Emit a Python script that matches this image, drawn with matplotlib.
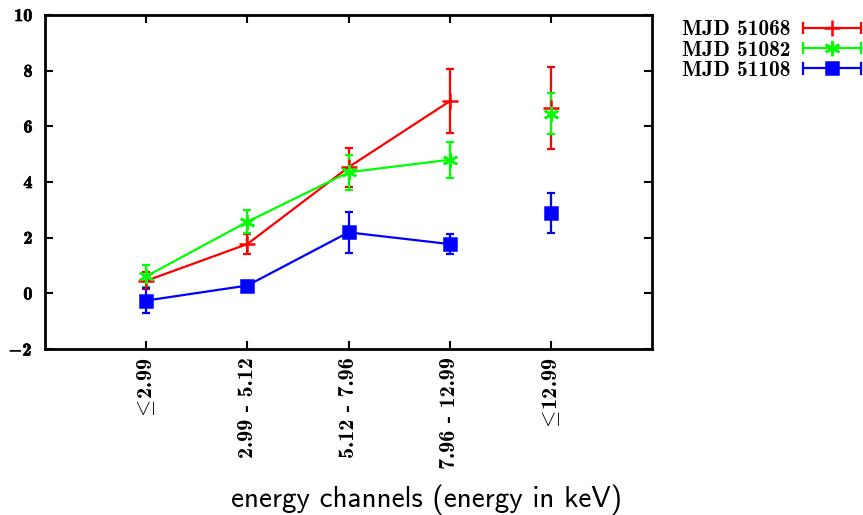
import matplotlib
matplotlib.use("Agg")
import matplotlib.pyplot as plt
from matplotlib.lines import Line2D
from matplotlib.legend_handler import HandlerBase
import matplotlib.patheffects as pe
import numpy as np

plt.rcParams['mathtext.fontset'] = 'cm'
plt.rcParams['axes.unicode_minus'] = False

channels = [r'$\leq\!$2.99', '2.99 - 5.12', '5.12 - 7.96', '7.96 - 12.99', r'$\leq\!$12.99']
xpos = [1, 2, 3, 4, 5]

red_y = [0.45, 1.77, 4.53, 6.90, 6.65]
red_e = [0.30, 0.35, 0.70, 1.15, 1.48]
green_y = [0.61, 2.57, 4.35, 4.80, 6.45]
green_e = [0.40, 0.42, 0.63, 0.65, 0.73]
blue_y = [-0.26, 0.28, 2.19, 1.77, 2.89]
blue_e = [0.45, 0.15, 0.75, 0.37, 0.72]

labels = ['MJD 51068', 'MJD 51082', 'MJD 51108']
colors = ['#ff0000', '#00ff00', '#0000ff']
markers = ['+', (6, 2, 0), 's']
msizes = [12, 11, 9]

yticks = [-2, 0, 2, 4, 6, 8, 10]


class HandlerCapLine(HandlerBase):
    def create_artists(self, legend, orig_handle, xdescent, ydescent,
                       width, height, fontsize, trans):
        c = orig_handle.get_color()
        y = height / 2 - ydescent
        x0, x1 = -xdescent, width - xdescent
        cap = height * 0.3
        arts = [Line2D([x0, x1], [y, y], color=c, lw=1.6),
                Line2D([x0, x0], [y - cap, y + cap], color=c, lw=1.6),
                Line2D([x1, x1], [y - cap, y + cap], color=c, lw=1.6),
                Line2D([(x0 + x1) / 2], [y], linestyle='none',
                       marker=orig_handle.get_marker(), color=c,
                       markersize=orig_handle.get_markersize(),
                       markeredgewidth=1.8)]
        for a in arts:
            a.set_transform(trans)
        return arts


fig = plt.figure(figsize=(8.63, 5.15), dpi=100)
ax = fig.add_axes([45 / 863, 1 - 349 / 515, (652 - 45) / 863, (349 - 15) / 515])

series = [(red_y, red_e), (green_y, green_e), (blue_y, blue_e)]
handles = []
for (yv, ev), c, m, ms, lab in zip(series, colors, markers, msizes, labels):
    ax.plot(xpos[:4], yv[:4], color=c, lw=1.6, zorder=2)
    ax.errorbar(xpos, yv, yerr=ev, fmt='none', ecolor=c, elinewidth=1.6,
                capsize=3, capthick=1.6, zorder=3)
    ax.plot(xpos, yv, linestyle='none', marker=m, color=c, markersize=ms,
            markeredgewidth=1.8, zorder=4)
    handles.append(Line2D([0], [0], color=c, lw=1.6, marker=m, markersize=ms,
                          markeredgewidth=1.8))

ax.set_xlim(0, 6)
ax.set_ylim(-2, 10)
ax.set_xticks(xpos)
ax.set_xticklabels(channels, rotation=90, family='cmb10', fontsize=16, va='top')
ax.set_yticks(yticks)
ytl = [('$-$%d' % -v) if v < 0 else '%d' % v for v in yticks]
ax.set_yticklabels(ytl, family='cmb10', fontsize=13)
for t in ax.get_yticklabels():
    t.set_path_effects([pe.withStroke(linewidth=0.5, foreground='black')])
ax.tick_params(direction='in', length=6, width=1.5, top=True, right=True, pad=6)
ax.tick_params(axis='y', pad=9)
for s in ax.spines.values():
    s.set_linewidth(2)

fig.text(426 / 863, 1 - 500 / 515, 'energy channels (energy in keV)', family='cmss10',
         fontsize=21, ha='center', va='center')

leg = fig.legend(handles, labels, handler_map={Line2D: HandlerCapLine()},
                 loc='upper right', bbox_to_anchor=(861 / 863, 1 - 19 / 515), frameon=False,
                 markerfirst=False, handlelength=2.7, prop={'family': 'cmb10', 'size': 15.4},
                 labelspacing=0.0, borderaxespad=0, borderpad=0, handletextpad=0.6,
                 handleheight=0.9)

fig.savefig('out.png', dpi=100)
